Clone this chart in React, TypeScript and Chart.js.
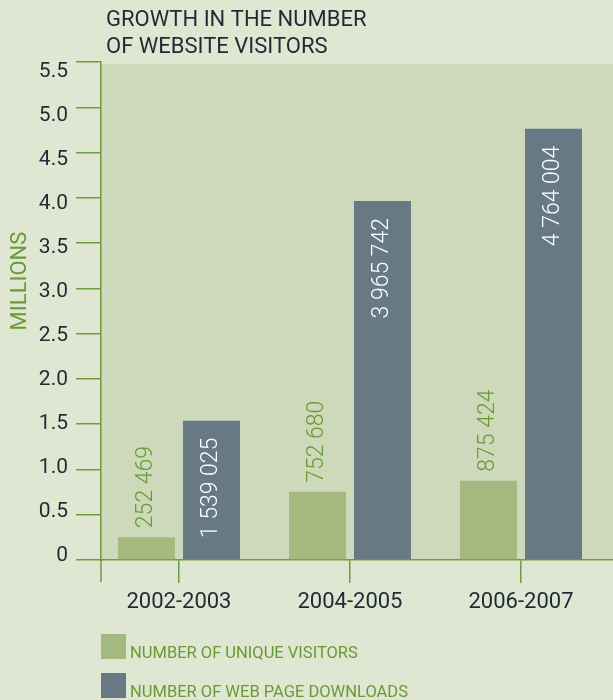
import React, { useEffect, useRef } from 'react';
import { Chart, registerables } from 'chart.js';

Chart.register(...registerables);

const titleLines = ['GROWTH IN THE NUMBER', 'OF WEBSITE VISITORS'];
const yAxisTitle = 'MILLIONS';
const periods = ['2002-2003', '2004-2005', '2006-2007'];
const uniqueVisitors = [252469, 752680, 875424];
const pageDownloads = [1539025, 3965742, 4764004];
const seriesNames = ['NUMBER OF UNIQUE VISITORS', 'NUMBER OF WEB PAGE DOWNLOADS'];
const yTickValues = [0, 0.5, 1, 1.5, 2, 2.5, 3, 3.5, 4, 4.5, 5, 5.5];
const yTickLabels = ['0', '0.5', '1.0', '1.5', '2.0', '2.5', '3.0', '3.5', '4.0', '4.5', '5.0', '5.5'];

const pageBg = '#dfe7d2';
const plotBg = '#cdd9ba';
const greenBar = '#a3b97f';
const slateBar = '#687986';
const axisGreen = '#6f9a3e';
const textDark = '#1e2b35';
const textGreen = '#6a9a34';
const FONT = 'Roboto, "Open Sans", sans-serif';

const fmt = (n: number) => String(n).replace(/\B(?=(\d{3})+(?!\d))/g, ' ');

const decorPlugin = {
  id: 'decor',
  beforeDraw(chart: any) {
    const { ctx, chartArea } = chart;
    ctx.save();
    ctx.fillStyle = pageBg;
    ctx.fillRect(0, 0, chart.width, chart.height);
    ctx.fillStyle = plotBg;
    ctx.fillRect(chartArea.left, chartArea.top + 2, chartArea.right - chartArea.left, chartArea.bottom - chartArea.top - 2);
    ctx.restore();
  },
  afterDraw(chart: any) {
    const { ctx, chartArea } = chart;
    ctx.save();
    // y-axis line continuation below zero
    ctx.strokeStyle = axisGreen;
    ctx.lineWidth = 1.5;
    ctx.beginPath();
    ctx.moveTo(chartArea.left, chartArea.bottom);
    ctx.lineTo(chartArea.left, chartArea.bottom + 22);
    ctx.stroke();

    // title
    ctx.fillStyle = textDark;
    ctx.font = `22px ${FONT}`;
    ctx.textAlign = 'left';
    ctx.textBaseline = 'alphabetic';
    ctx.fillText(titleLines[0], 106, 26);
    ctx.fillText(titleLines[1], 106, 53);

    // axis title
    ctx.save();
    ctx.translate(20, 281);
    ctx.rotate(-Math.PI / 2);
    ctx.fillStyle = textGreen;
    ctx.font = `22px ${FONT}`;
    ctx.textAlign = 'center';
    ctx.textBaseline = 'middle';
    ctx.fillText(yAxisTitle, 0, 0);
    ctx.restore();

    // legend
    const colors = [greenBar, slateBar];
    const tops = [634, 673];
    ctx.font = `16.5px ${FONT}`;
    ctx.textAlign = 'left';
    ctx.textBaseline = 'alphabetic';
    seriesNames.forEach((name, i) => {
      ctx.fillStyle = colors[i];
      ctx.fillRect(101, tops[i], 25, 25);
      ctx.fillStyle = textGreen;
      ctx.fillText(name, 130, tops[i] + 24);
    });
    ctx.restore();
  },
  afterDatasetsDraw(chart: any) {
    const { ctx } = chart;
    const sources = [uniqueVisitors, pageDownloads];
    chart.data.datasets.forEach((_ds: any, di: number) => {
      const meta = chart.getDatasetMeta(di);
      meta.data.forEach((bar: any, i: number) => {
        const text = fmt(sources[di][i]);
        ctx.save();
        ctx.translate(bar.x, di === 0 ? bar.y - 9 : bar.y + 17);
        ctx.rotate(-Math.PI / 2);
        ctx.font = `300 23px ${FONT}`;
        ctx.textAlign = di === 0 ? 'left' : 'right';
        ctx.textBaseline = 'middle';
        ctx.fillStyle = di === 0 ? textGreen : '#ffffff';
        ctx.fillText(text, 0, 0);
        ctx.restore();
      });
    });
  },
};

export default function App() {
  const ref = useRef<HTMLCanvasElement>(null);
  useEffect(() => {
    document.body.style.margin = '0';
    document.body.style.background = pageBg;
    const chart = new Chart(ref.current as HTMLCanvasElement, {
      type: 'bar',
      data: {
        datasets: [
          {
            label: seriesNames[0],
            data: uniqueVisitors.map((v, i) => ({ x: i, y: v / 1e6 })),
            backgroundColor: greenBar,
            categoryPercentage: 0.76,
            barPercentage: 0.877,
            xAxisID: 'x',
            yAxisID: 'y',
          },
          {
            label: seriesNames[1],
            data: pageDownloads.map((v, i) => ({ x: i, y: v / 1e6 })),
            backgroundColor: slateBar,
            categoryPercentage: 0.76,
            barPercentage: 0.877,
            xAxisID: 'x',
            yAxisID: 'y',
          },
        ],
      } as any,
      options: {
        responsive: false,
        animation: false,
        devicePixelRatio: 1,
        layout: { padding: { top: 62, left: 0, right: 0, bottom: 0 } },
        plugins: { legend: { display: false }, tooltip: { enabled: false }, title: { display: false } },
        scales: {
          x: {
            type: 'linear',
            position: 'bottom',
            offset: false,
            min: -0.456,
            max: 2.538,
            afterBuildTicks: (s: any) => {
              s.ticks = periods.map((_p, i) => ({ value: i }));
            },
            ticks: {
              autoSkip: false,
              maxRotation: 0,
              padding: 6,
              color: textDark,
              font: { family: FONT, size: 22 },
              callback: (v: any) => periods[Math.round(Number(v))],
            },
            grid: { offset: false, drawOnChartArea: false, tickLength: 23, color: axisGreen, lineWidth: 1.5 },
            border: { color: axisGreen, width: 1.5 },
            afterFit: (s: any) => {
              s.height = 140;
            },
          },
          y: {
            type: 'linear',
            position: 'left',
            min: 0,
            max: 5.5,
            weight: 0,
            afterBuildTicks: (s: any) => {
              s.ticks = yTickValues.map((v) => ({ value: v }));
            },
            ticks: { display: false },
            grid: { drawOnChartArea: false, drawTicks: true, tickLength: 25, color: axisGreen, lineWidth: 1.5 },
            border: { color: axisGreen, width: 1.5 },
            afterFit: (s: any) => {
              s.width = 26;
            },
          },
          ylab: {
            type: 'linear',
            position: 'left',
            min: -0.0455,
            max: 5.614,
            weight: 1,
            afterBuildTicks: (s: any) => {
              s.ticks = yTickValues.map((v) => ({ value: v }));
            },
            ticks: {
              padding: 7,
              color: textDark,
              font: { family: FONT, size: 21 },
              callback: (_v: any, i: number) => yTickLabels[i],
            },
            grid: { display: false, drawTicks: false },
            border: { display: false },
            afterFit: (s: any) => {
              s.width = 75;
            },
          },
        } as any,
      },
      plugins: [decorPlugin],
    });
    return () => chart.destroy();
  }, []);
  return (
    <div style={{ width: 613, height: 700 }}>
      <canvas ref={ref} width={613} height={700} style={{ display: 'block' }} />
    </div>
  );
}
